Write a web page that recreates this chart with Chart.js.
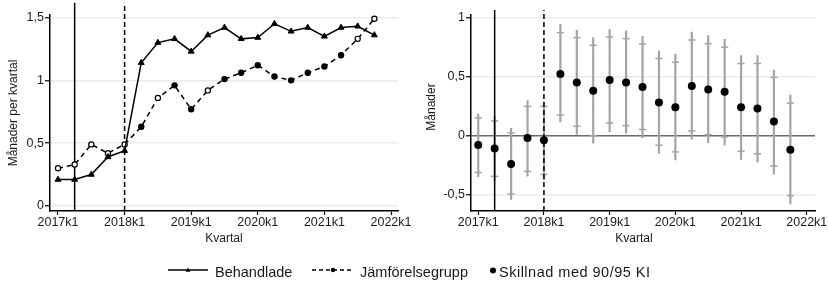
<!DOCTYPE html>
<html><head><meta charset="utf-8">
<script src="https://cdn.jsdelivr.net/npm/chart.js@4.4.1/dist/chart.umd.min.js"></script>
<style>
html,body{margin:0;padding:0;background:#fff;width:828px;height:283px;overflow:hidden;position:relative;}
#left{position:absolute;left:0;top:0;}
#right{position:absolute;left:414px;top:0;}
.lg{position:absolute;font-family:"Liberation Sans",Arial,sans-serif;font-size:14.5px;line-height:14.5px;color:#1a1a1a;white-space:nowrap;top:265px;}
#lgsym{position:absolute;left:0;top:0;}
</style></head><body>
<canvas id="left" width="414" height="250"></canvas>
<canvas id="right" width="414" height="250"></canvas>
<svg id="lgsym" width="828" height="283">
  <line x1="168" y1="270" x2="208" y2="270" stroke="#000" stroke-width="1.3"/>
  <polygon points="188,267.5 185.6,271.7 190.4,271.7" fill="#000"/>
  <line x1="312" y1="270" x2="353" y2="270" stroke="#000" stroke-width="1.3" stroke-dasharray="4,3"/>
  <circle cx="333" cy="270" r="2.2" fill="#000"/>
  <circle cx="493" cy="270.5" r="3" fill="#000"/>
</svg>
<div class="lg" style="left:215px">Behandlade</div>
<div class="lg" style="left:360px">Jämförelsegrupp</div>
<div class="lg" style="left:499px;letter-spacing:0.5px">Skillnad med 90/95 KI</div>
<script>
// ---------- data ----------
const quarters = [0,1,2,3,4,5,6,7,8,9,10,11,12,13,14,15,16,17,18,19];
const xTickPos = [0,4,8,12,16,20];
const xTickLabels = ['2017k1','2018k1','2019k1','2020k1','2021k1','2022k1'];
const leftYTicks = [0,0.5,1,1.5];
const leftYLabels = ['0','0,5','1','1,5'];
const rightYTicks = [-0.5,0,0.5,1];
const rightYLabels = ['-0,5','0','0,5','1'];
const solidLineQuarter = 1;   // 2017k2
const dashedLineQuarter = 4;  // 2018k1

const behandlade = [0.21,0.21,0.25,0.39,0.44,1.14,1.30,1.33,1.23,1.36,1.42,1.33,1.34,1.45,1.39,1.42,1.35,1.42,1.43,1.36];
const jamforelse = [0.30,0.33,0.49,0.42,0.49,0.63,0.86,0.96,0.77,0.92,1.01,1.06,1.12,1.03,1.00,1.06,1.11,1.20,1.33,1.49];
const jamforelseOpen = [true,true,true,true,true,false,true,false,false,true,false,false,false,false,false,false,false,false,true,true];

const skillnad = [-0.08,-0.11,-0.24,-0.02,-0.04,0.52,0.45,0.38,0.47,0.45,0.41,0.28,0.24,0.42,0.39,0.37,0.24,0.23,0.12,-0.12];
const ci95hi = [0.185,0.163,0.065,0.298,0.289,0.944,0.893,0.829,0.899,0.888,0.843,0.719,0.691,0.879,0.848,0.817,0.680,0.680,0.556,0.346];
const ci90hi = [0.149,0.124,0.022,0.247,0.247,0.871,0.829,0.764,0.834,0.820,0.775,0.652,0.621,0.809,0.778,0.747,0.610,0.610,0.492,0.275];
const ci90lo = [-0.312,-0.345,-0.494,-0.303,-0.329,0.174,0.079,0.000,0.107,0.084,0.051,-0.081,-0.138,0.039,0.008,-0.011,-0.132,-0.154,-0.258,-0.508];
const ci95lo = [-0.351,-0.385,-0.542,-0.346,-0.376,0.112,0.008,-0.067,0.031,0.017,-0.020,-0.154,-0.208,-0.034,-0.062,-0.084,-0.205,-0.225,-0.329,-0.581];

// ---------- setup ----------
Chart.defaults.font.family = '"Liberation Sans", Arial, sans-serif';
Chart.defaults.color = '#1a1a1a';
const GRID = '#e6edf1';
const CI = '#a4a4a4';

const L = {ymin:-0.04, ymax:1.52, ytop:1.617, xmin:-0.48, xmax:20.42};
const R = {ymin:-0.638, ymax:1.02, ytop:1.062, xmin:-0.44, xmax:20.5};

function xScale(lim, title){
  return {
    type:'linear', min:lim.xmin, max:lim.xmax,
    afterBuildTicks:(s)=>{ s.ticks = xTickPos.map(v=>({value:v})); },
    afterFit:(s)=>{ s.height = 39; s.paddingLeft = 0; s.paddingRight = 0; },
    ticks:{ callback:(v)=>xTickLabels[xTickPos.indexOf(v)], autoSkip:false, maxRotation:0, minRotation:0, padding:0, font:{size:12.5}, color:'#1a1a1a' },
    grid:{ drawOnChartArea:false, drawTicks:true, tickLength:4, tickColor:'#000', tickWidth:1.2 },
    border:{ display:true, color:'#000', width:1.5 },
    title:{ display:true, text:title, font:{size:12}, padding:{top:0,bottom:4}, color:'#1a1a1a' }
  };
}
function yScale(lim, ticks, labels, width, title, titlePad, zeroDark){
  return {
    type:'linear', min:lim.ymin, max:lim.ymax,
    afterBuildTicks:(s)=>{ s.ticks = ticks.map(v=>({value:v})); },
    afterFit:(s)=>{ s.width = width; },
    ticks:{ callback:(v)=>labels[ticks.indexOf(v)], padding:1, font:{size:12.5}, color:'#1a1a1a' },
    grid:{
      color:(c)=> (zeroDark && c.tick && c.tick.value===0) ? '#6a6a6a' : GRID,
      lineWidth:(c)=> (zeroDark && c.tick && c.tick.value===0) ? 1.6 : 1.5,
      drawTicks:true, tickLength:5, tickColor:'#000', tickWidth:1.2
    },
    border:{ display:true, color:'#000', width:1.5 },
    title:{ display:true, text:title, font:{size:12}, padding:{top:titlePad,bottom:0}, color:'#1a1a1a' }
  };
}
function vline(q, lim, dash){
  return { type:'line', data:[{x:q,y:lim.ymin},{x:q,y:lim.ytop}], borderColor:'#000', borderWidth:1.5,
           borderDash:dash, pointRadius:0, clip:false, order:0 };
}
const common = { responsive:false, animation:false, devicePixelRatio:1, events:[],
  plugins:{ legend:{display:false}, tooltip:{enabled:false} } };

// ---------- left chart ----------
new Chart(document.getElementById('left'), {
  type:'line',
  data:{ datasets:[
    { label:'Behandlade', data:quarters.map((q,i)=>({x:q,y:behandlade[i]})),
      borderColor:'#000', borderWidth:1.5, tension:0,
      pointStyle:'triangle', pointRadius:3.4, pointBackgroundColor:'#000', pointBorderColor:'#000', pointBorderWidth:1 },
    { label:'Jämförelsegrupp', data:quarters.map((q,i)=>({x:q,y:jamforelse[i]})),
      borderColor:'#000', borderWidth:1.5, borderDash:[5,4], tension:0,
      pointStyle:'circle', pointRadius:2.6, pointBorderWidth:1.2, pointBorderColor:'#000',
      pointBackgroundColor:jamforelseOpen.map(o=>o?'#fff':'#000') },
    vline(solidLineQuarter, L, []),
    vline(dashedLineQuarter, L, [5,3])
  ]},
  options:Object.assign({}, common, {
    layout:{ padding:{top:15,right:16,bottom:0,left:0} },
    scales:{ x:xScale(L, 'Kvartal'), y:yScale(L, leftYTicks, leftYLabels, 50, 'Månader per kvartal', 6, false) }
  })
});

// ---------- right chart ----------
const ci95data = [];
quarters.forEach((q,i)=>{ ci95data.push({x:q,y:ci95lo[i]},{x:q,y:ci95hi[i]},{x:q,y:null}); });
const capData = [];
quarters.forEach((q,i)=>{ capData.push({x:q,y:ci90lo[i]},{x:q,y:ci90hi[i]}); });

new Chart(document.getElementById('right'), {
  type:'line',
  data:{ datasets:[
    { label:'95 KI', data:ci95data, borderColor:CI, borderWidth:2.2, pointRadius:0, spanGaps:false, order:3 },
    { label:'90 KI', data:capData, showLine:false, pointStyle:'line', pointRadius:3.6,
      pointBorderColor:CI, pointBorderWidth:1.5, order:2 },
    { label:'Skillnad', data:quarters.map((q,i)=>({x:q,y:skillnad[i]})), showLine:false,
      pointStyle:'circle', pointRadius:4, pointBackgroundColor:'#000', pointBorderColor:'#000', pointBorderWidth:0, order:1 },
    vline(solidLineQuarter, R, []),
    vline(dashedLineQuarter, R, [5,3])
  ]},
  options:Object.assign({}, common, {
    layout:{ padding:{top:15,right:13,bottom:0,left:0} },
    scales:{ x:xScale(R, 'Kvartal\u2002\u2002\u2002'), y:yScale(R, rightYTicks, rightYLabels, 57, '\u2002\u2002Månader', 10.8, true) }
  })
});
</script>
</body></html>
